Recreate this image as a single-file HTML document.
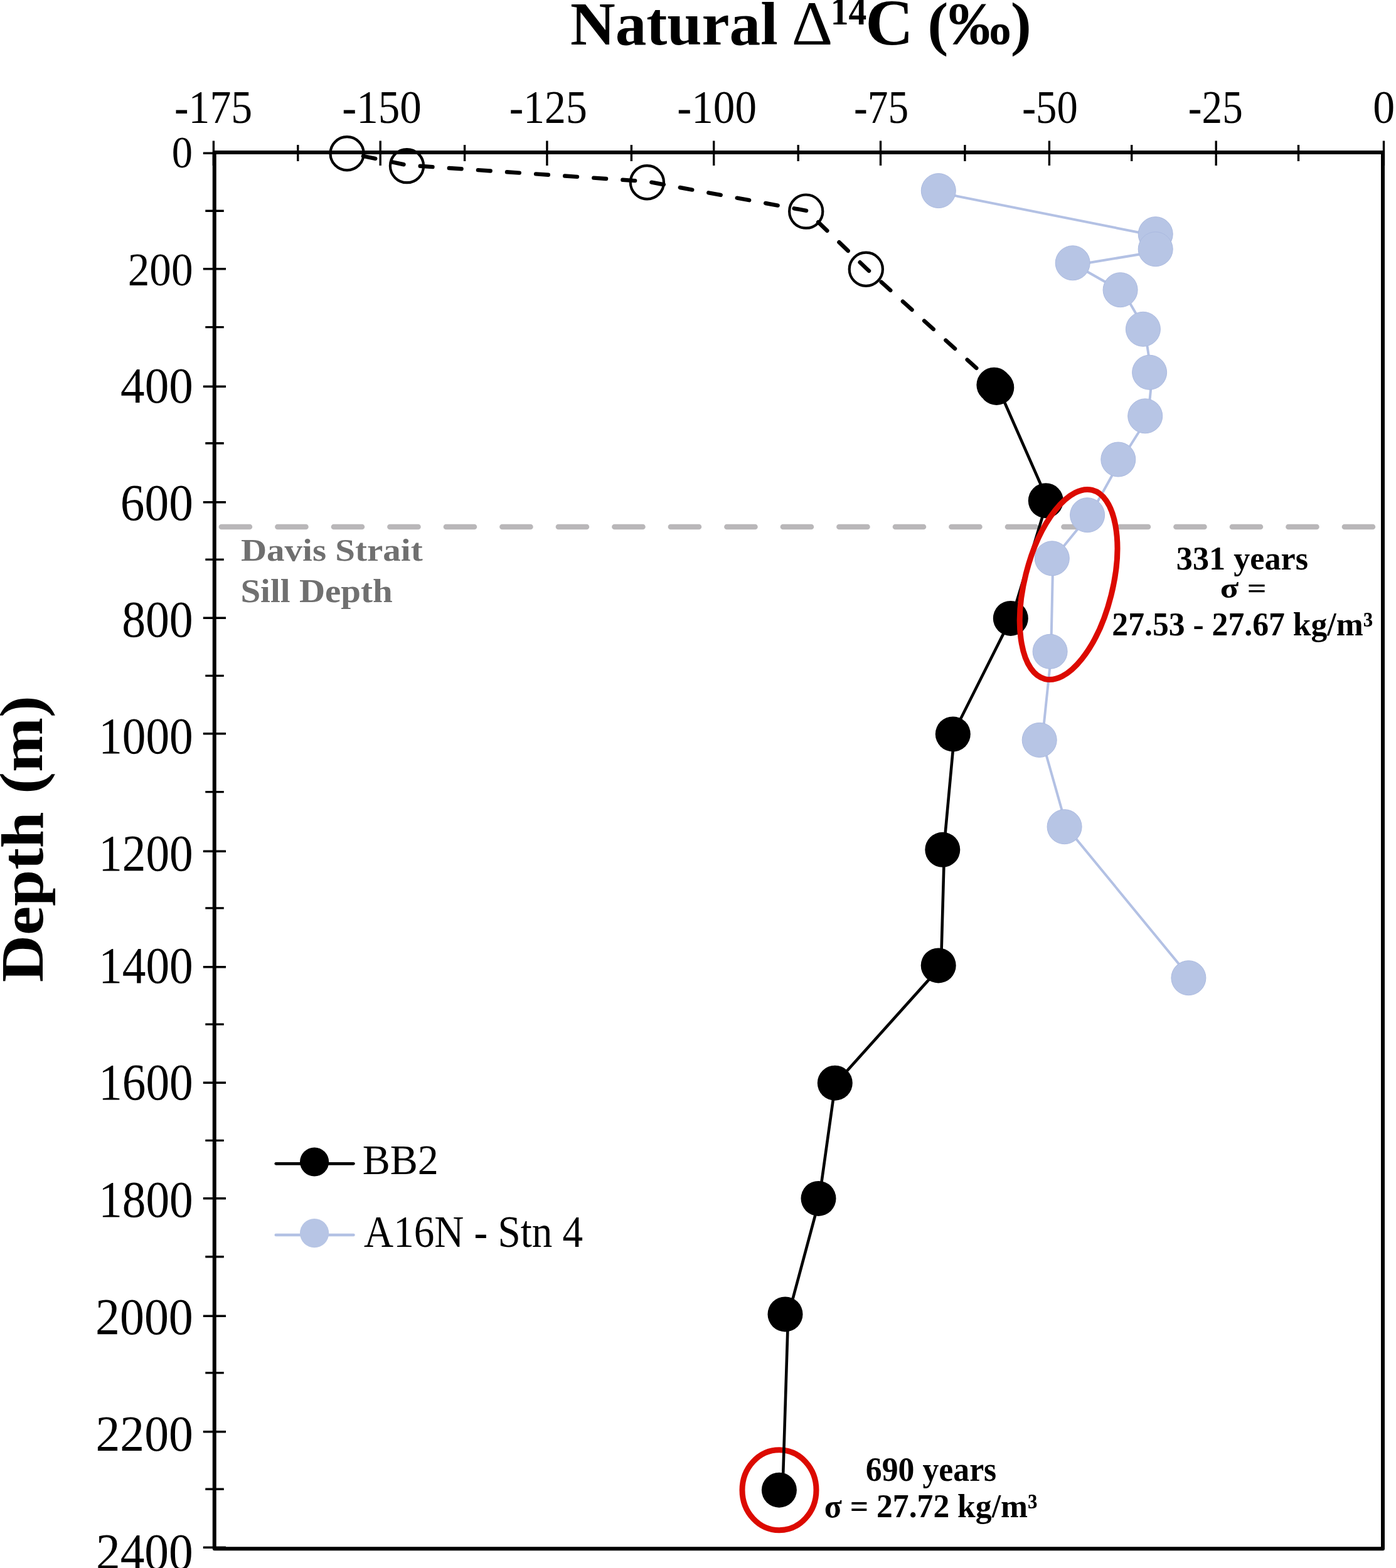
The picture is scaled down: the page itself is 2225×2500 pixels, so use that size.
<!DOCTYPE html>
<html lang="en"><head><meta charset="utf-8"><title>Natural Δ14C depth profile</title>
<style>
html,body{margin:0;padding:0;background:#fff;}
body{width:2225px;height:2500px;}
svg{display:block;}
text{font-family:"Liberation Serif","DejaVu Serif",serif;}
.tk{stroke:#000;stroke-width:3.4;fill:none;}
</style></head><body>
<svg width="2225" height="2500" viewBox="0 0 2225 2500">
<rect x="0" y="0" width="2225" height="2500" fill="#fff"/>
<line x1="352.9" y1="840" x2="2190" y2="840" stroke="#b9b7b9" stroke-width="8.5" stroke-linecap="round" stroke-dasharray="45.1 44.4"/>
<path d="M1498.8 307.4L1844.7 376.5M1844.7 375.7L1844.7 399.7M1844.7 400.7L1712.7 422.8M1712.7 421.8L1788.6 464.7M1790.1 464.7L1826.4 527.3M1824.9 527.3L1835.1 596.2M1836.6 596.2L1829.7 665.8M1829.7 665.8L1786.0 735.0M1785.3 735.0L1736.1 823.7M1733.8 823.7L1677.5 892.8M1678.3 892.8L1675.1 1041.3M1675.7 1041.3L1660.9 1182.4M1661.5 1182.4L1700.7 1320.7M1701.4 1320.7L1899.2 1561.7" fill="none" stroke="#b3c1e4" stroke-width="4.0" stroke-linecap="round"/>
<g fill="#b7c5e5" stroke="#abbae0" stroke-width="1">
<circle cx="1495.8" cy="304.1" r="27.5"/>
<circle cx="1841.7" cy="373.2" r="27.5"/>
<circle cx="1841.7" cy="397.2" r="27.5"/>
<circle cx="1709.7" cy="419.3" r="27.5"/>
<circle cx="1785.6" cy="462.2" r="27.5"/>
<circle cx="1821.9" cy="524.8" r="27.5"/>
<circle cx="1832.1" cy="593.7" r="27.5"/>
<circle cx="1825.2" cy="663.3" r="27.5"/>
<circle cx="1782.3" cy="732.5" r="27.5"/>
<circle cx="1733.1" cy="821.2" r="27.5"/>
<circle cx="1676.8" cy="890.3" r="27.5"/>
<circle cx="1673.6" cy="1038.8" r="27.5"/>
<circle cx="1656.7" cy="1179.9" r="27.5"/>
<circle cx="1696.6" cy="1318.2" r="27.5"/>
<circle cx="1894.4" cy="1559.2" r="27.5"/>
</g>
<rect x="341.75" y="243.00" width="1862.25" height="2226.20" fill="none" stroke="#000" stroke-width="6" stroke-linejoin="round"/>
<path class="tk" d="M340.4 224.4V264M474.8 231V257M606.2 224.4V264M740.6 231V257M871.9 224.4V264M1006.4 231V257M1137.7 224.4V264M1272.2 231V257M1403.5 224.4V264M1537.9 231V257M1672.4 224.4V264M1803.7 231V257M1938.2 224.4V264M2069.5 231V257M2205.5 224.4V264"/>
<path class="tk" d="M323.8 244.2H360M327.3 336.3H356.8M323.8 428.7H360M327.3 521.6H356.8M323.8 616.3H360M327.3 706.8H356.8M323.8 800.8H360M327.3 892.1H356.8M323.8 985.2H360M327.3 1077.4H356.8M323.8 1169.7H360M327.3 1262.6H356.8M323.8 1357.3H360M327.3 1447.9H356.8M323.8 1541.8H360M327.3 1633.1H356.8M323.8 1726.3H360M327.3 1818.4H356.8M323.8 1910.7H360M327.3 2003.7H356.8M323.8 2098.3H360M327.3 2188.9H356.8M323.8 2282.8H360M327.3 2374.2H356.8M323.8 2467.3H360"/>
<polyline points="553.6,243.6 649.0,263.4 1031.9,289.5 1285.2,335.9 1380.8,428.0 1587.0,614.6" fill="none" stroke="#000" stroke-width="6.4" stroke-linecap="round" stroke-linejoin="round" stroke-dasharray="19.8 26.4" stroke-dashoffset="20.4"/>
<g fill="none" stroke="#000" stroke-width="4.2">
<circle cx="553.1" cy="244.8" r="26.6"/>
<circle cx="648.5" cy="264.6" r="26.6"/>
<circle cx="1031.4" cy="290.7" r="26.6"/>
<circle cx="1284.7" cy="337.1" r="26.6"/>
<circle cx="1380.3" cy="429.2" r="26.6"/>
</g>
<ellipse cx="1242" cy="2375.7" rx="59" ry="64" fill="none" stroke="#dc0a00" stroke-width="9"/>
<path d="M1589.8 615.8L1670.1 798.2M1669.3 798.2L1612.3 985.9M1611.6 985.9L1518.9 1170.4M1521.2 1170.4L1504.2 1354.8M1505.1 1354.8L1499.9 1539.4M1500.7 1539.4L1332.6 1726.7M1331.6 1726.7L1305.8 1910.9M1306.5 1910.9L1257.0 2095.4M1256.2 2095.4L1247.4 2375.7" fill="none" stroke="#000" stroke-width="4.6" stroke-linecap="round"/>
<g fill="#000">
<circle cx="1584.4" cy="613.7" r="28.0"/>
<circle cx="1588.3" cy="617.9" r="28.0"/>
<circle cx="1666.8" cy="798.2" r="28.0"/>
<circle cx="1610.8" cy="985.9" r="28.0"/>
<circle cx="1518.8" cy="1170.4" r="28.0"/>
<circle cx="1502.3" cy="1354.8" r="28.0"/>
<circle cx="1495.7" cy="1539.4" r="28.0"/>
<circle cx="1330.8" cy="1726.7" r="28.0"/>
<circle cx="1304.5" cy="1910.9" r="28.0"/>
<circle cx="1251.5" cy="2095.4" r="28.0"/>
<circle cx="1241.9" cy="2375.7" r="28.0"/>
</g>
<ellipse cx="1703.1" cy="932" rx="70" ry="155.2" transform="rotate(14.1 1703.1 932)" fill="none" stroke="#dc0a00" stroke-width="9"/>
<line x1="439.8" y1="1855.3" x2="563.4" y2="1855.3" stroke="#000" stroke-width="4.7" stroke-linecap="round"/>
<circle cx="501.1" cy="1852.5" r="23.1" fill="#000"/>
<line x1="439.8" y1="1969" x2="563.4" y2="1969" stroke="#b3c1e4" stroke-width="4.7" stroke-linecap="round"/>
<circle cx="501.1" cy="1966.1" r="23.1" fill="#b7c5e5"/>
<text transform="matrix(0.9154 0.0000 0.0000 1.0102 278.05 195.70)" font-size="74" fill="#000">-175</text>
<text transform="matrix(0.9338 0.0000 0.0000 1.0102 545.20 195.70)" font-size="74" fill="#000">-150</text>
<text transform="matrix(0.9154 0.0000 0.0000 1.0102 811.65 195.70)" font-size="74" fill="#000">-125</text>
<text transform="matrix(0.9338 0.0000 0.0000 1.0102 1079.30 195.70)" font-size="74" fill="#000">-100</text>
<text transform="matrix(0.8828 0.0000 0.0000 1.0102 1361.05 195.70)" font-size="74" fill="#000">-75</text>
<text transform="matrix(0.9011 0.0000 0.0000 1.0102 1628.90 195.70)" font-size="74" fill="#000">-50</text>
<text transform="matrix(0.8806 0.0000 0.0000 1.0102 1893.86 195.70)" font-size="74" fill="#000">-25</text>
<text transform="matrix(0.9419 0.0000 0.0000 1.0102 2188.27 195.70)" font-size="74" fill="#000">0</text>
<text transform="matrix(0.8114 0.0000 0.0000 0.8818 273.77 266.62)" font-size="82" fill="#000">0</text>
<text transform="matrix(0.8448 0.0000 0.0000 0.8945 203.72 454.51)" font-size="82" fill="#000">200</text>
<text transform="matrix(0.9415 0.0000 0.0000 0.9891 192.12 641.91)" font-size="82" fill="#000">400</text>
<text transform="matrix(0.9431 0.0000 0.0000 1.0055 191.83 828.79)" font-size="82" fill="#000">600</text>
<text transform="matrix(0.9239 0.0000 0.0000 1.0055 194.13 1015.09)" font-size="82" fill="#000">800</text>
<text transform="matrix(0.9182 0.0000 0.0000 1.0036 157.17 1201.20)" font-size="82" fill="#000">1000</text>
<text transform="matrix(0.9182 0.0000 0.0000 1.0127 157.17 1388.19)" font-size="82" fill="#000">1200</text>
<text transform="matrix(0.9182 0.0000 0.0000 1.0055 157.17 1566.69)" font-size="82" fill="#000">1400</text>
<text transform="matrix(0.9182 0.0000 0.0000 1.0182 157.17 1753.48)" font-size="82" fill="#000">1600</text>
<text transform="matrix(0.9182 0.0000 0.0000 1.0127 157.17 1939.99)" font-size="82" fill="#000">1800</text>
<text transform="matrix(0.9503 0.0000 0.0000 1.0055 152.00 2126.79)" font-size="82" fill="#000">2000</text>
<text transform="matrix(0.9478 0.0000 0.0000 0.9927 152.41 2312.51)" font-size="82" fill="#000">2200</text>
<text transform="matrix(0.9446 0.0000 0.0000 1.0073 152.92 2501.69)" font-size="82" fill="#000">2400</text>
<text transform="matrix(0.9927 0.0000 0.0000 0.9757 909.01 71.32)" font-size="100" font-weight="bold" fill="#000">Natural</text>
<text transform="matrix(1.0193 0.0000 0.0000 1.0045 1261.82 71.20)" font-size="100" fill="#000">Δ</text>
<text transform="matrix(0.9268 0.0000 0.0000 1.0300 1323.87 38.80)" font-size="62" font-weight="bold" fill="#000">14</text>
<text transform="matrix(1.0600 0.0000 0.0000 1.0409 1379.30 71.36)" font-size="100" font-weight="bold" fill="#000">C</text>
<text transform="matrix(0.9943 0.0000 0.0000 0.9622 1478.32 70.09)" font-size="100" font-weight="bold" fill="#000">(‰)</text>
<text transform="matrix(0.0000 -1.0625 0.9730 0.0000 67.77 1566.12)" font-size="98" font-weight="bold" fill="#000">Depth</text>
<text transform="matrix(0.0000 -1.0676 0.9851 0.0000 66.70 1265.87)" font-size="98" font-weight="bold" fill="#000">(m)</text>
<text transform="matrix(1.0009 0.0000 0.0000 1.0233 577.70 1872.30)" font-size="66" fill="#000">BB2</text>
<text transform="matrix(0.9866 0.0000 0.0000 1.0884 580.11 1987.50)" font-size="66" fill="#000">A16N - Stn 4</text>
<text transform="matrix(0.9848 0.0000 0.0000 1.0109 1874.83 908.18)" font-size="53" font-weight="bold" fill="#000">331 years</text>
<text transform="matrix(1.0224 0.0000 0.0000 0.8643 1944.76 952.54)" font-size="53" font-weight="bold" fill="#000">σ =</text>
<text transform="matrix(0.9749 0.0000 0.0000 1.0042 1772.35 1013.35)" font-size="53" font-weight="bold" fill="#000">27.53 - 27.67 kg/m³</text>
<text transform="matrix(0.9767 0.0000 0.0000 1.0239 1379.85 2360.54)" font-size="53" font-weight="bold" fill="#000">690 years</text>
<text transform="matrix(0.9743 0.0000 0.0000 0.9979 1313.75 2419.42)" font-size="53" font-weight="bold" fill="#000">σ = 27.72 kg/m³</text>
<text transform="matrix(1.0966 0.0000 0.0000 0.9789 383.90 893.82)" font-size="52" font-weight="bold" fill="#707070">Davis Strait</text>
<text transform="matrix(1.0968 0.0000 0.0000 1.0042 383.41 959.75)" font-size="52" font-weight="bold" fill="#707070">Sill Depth</text>
</svg>
</body></html>
